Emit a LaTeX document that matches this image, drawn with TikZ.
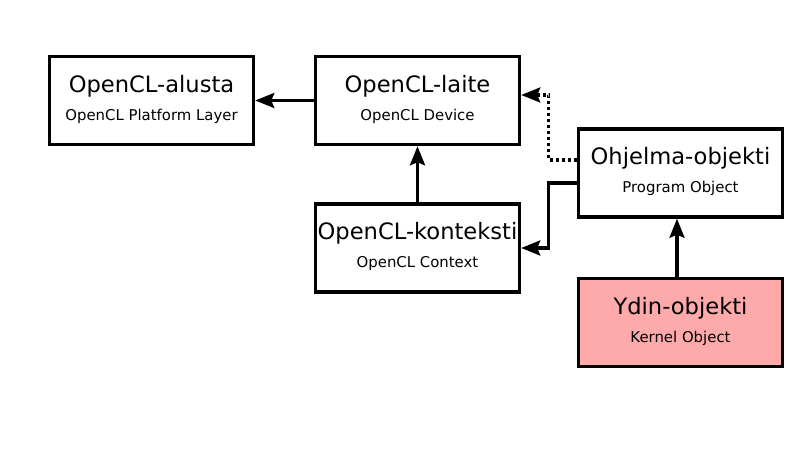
\documentclass[tikz,border=0pt]{standalone}
\usepackage{fontspec}
\setmainfont{DejaVu Sans}
\usetikzlibrary{arrows.meta,calc}
\begin{document}
\begin{tikzpicture}[x=1bp,y=-1bp,
 box/.style={draw=black,line width=3.5bp,minimum width=204bp,minimum height=88bp,inner sep=0pt,fill=white},
 ttl/.style={anchor=base,inner sep=0pt,font=\fontsize{22.6bp}{26bp}\selectfont},
 sub/.style={anchor=base,inner sep=0pt,font=\fontsize{14.9bp}{17bp}\selectfont},
 arr/.style={line width=3.2bp,-{Stealth[length=19bp,width=15bp,inset=3bp]}},
]
\useasboundingbox (0,0) rectangle (796,452);
\definecolor{pinkfill}{RGB}{255,170,170}
\node[box] (alusta) at (151.5,100.5) {};
\node[ttl] (alusta-t) at ($(alusta.center)+(0,-8)$) {OpenCL-alusta};
\node[sub] (alusta-s) at ($(alusta.center)+(0,20)$) {OpenCL Platform Layer};
\node[box] (laite) at (417.5,100.5) {};
\node[ttl] (laite-t) at ($(laite.center)+(0,-8)$) {OpenCL-laite};
\node[sub] (laite-s) at ($(laite.center)+(0,20)$) {OpenCL Device};
\node[box] (kont) at (417.5,248) {};
\node[ttl] (kont-t) at ($(kont.center)+(0,-8)$) {OpenCL-konteksti};
\node[sub] (kont-s) at ($(kont.center)+(0,20)$) {OpenCL Context};
\node[box] (ohj) at (680.5,173) {};
\node[ttl] (ohj-t) at ($(ohj.center)+(0,-8)$) {Ohjelma-objekti};
\node[sub] (ohj-s) at ($(ohj.center)+(0,20)$) {Program Object};
\node[box,fill=pinkfill] (ydin) at (680.5,322.5) {};
\node[ttl] (ydin-t) at ($(ydin.center)+(0,-8)$) {Ydin-objekti};
\node[sub] (ydin-s) at ($(ydin.center)+(0,20)$) {Kernel Object};
\draw[arr] (laite.west) -- (alusta.east);
\draw[arr] (kont.north) -- (laite.south);
\draw[arr] ([xshift=-3.5bp]ydin.north) -- ([xshift=-3.5bp]ohj.south);
\draw[arr,dash pattern=on 3bp off 3bp] ($(ohj.west)+(0,-13)$) -- ++(-28,0) |- ($(laite.east)+(0,-5.5)$);
\draw[arr] ($(ohj.west)+(0,10)$) -- ++(-28,0) |- (kont.east);
\end{tikzpicture}
\end{document}
